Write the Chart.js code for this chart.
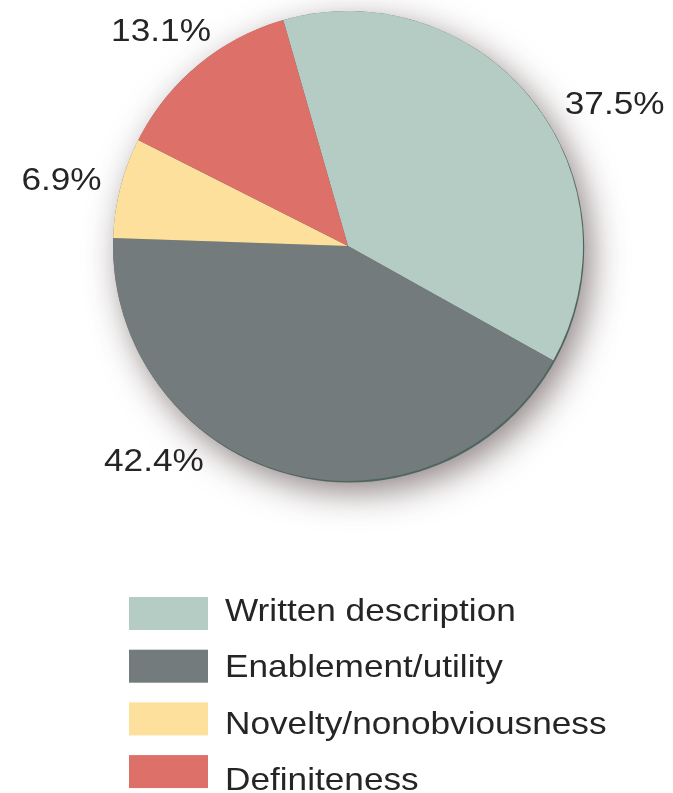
<!DOCTYPE html>
<html>
<head>
<meta charset="utf-8">
<script src="https://cdn.jsdelivr.net/npm/chart.js@4/dist/chart.umd.min.js"></script>
<style>
    html, body { margin: 0; padding: 0; background: #fff; overflow: hidden; }
    #wrap { width: 673px; height: 793px; position: relative; }
</style>
</head>
<body>
<div id="wrap"><canvas id="pieChart"></canvas></div>
<script>
// Категории и доли (в процентах)
const categories = ['Written description', 'Enablement/utility', 'Novelty/nonobviousness', 'Definiteness'];
const shares = [37.5, 42.4, 6.9, 13.1];
// Цвета секторов
const sliceColors = ['#b5ccc4', '#737b7c', '#fde09c', '#dd7169'];

const textFont = '32px "Liberation Sans", Arial, sans-serif';
const textColor = '#252525';
// Шрифт в оригинале немного шире обычного Arial
const textStretch = 1.1;

// Пишет текст, растянутый по горизонтали
function drawWideText(ctx, text, x, y, align) {
    ctx.save();
    ctx.translate(x, y);
    ctx.scale(textStretch, 1);
    ctx.textAlign = align;
    ctx.fillText(text, 0, 0);
    ctx.restore();
}

// Тень и тёмная кромка под кругом
const pieShadow = {
    id: 'pieShadow',
    beforeDatasetsDraw(chart) {
        const arc = chart.getDatasetMeta(0).data[0];
        if (!arc) return;
        const {x, y, outerRadius} = arc.getProps(['x', 'y', 'outerRadius'], true);
        const ctx = chart.ctx;
        ctx.save();
        ctx.shadowColor = 'rgba(75, 55, 55, 0.62)';
        ctx.shadowBlur = 34;
        ctx.shadowOffsetX = 8;
        ctx.shadowOffsetY = 11;
        ctx.beginPath();
        ctx.arc(x, y, outerRadius, 0, Math.PI * 2);
        ctx.fillStyle = '#6f7a78';
        ctx.fill();
        ctx.restore();

        ctx.save();
        ctx.beginPath();
        ctx.arc(x + 1.2, y + 1.5, outerRadius, 0, Math.PI * 2);
        ctx.fillStyle = '#4f6660';
        ctx.fill();
        ctx.restore();
    }
};

// Подписи процентов снаружи круга
const outsideLabels = {
    id: 'outsideLabels',
    afterDatasetsDraw(chart, args, opts) {
        const meta = chart.getDatasetMeta(0);
        const ctx = chart.ctx;
        ctx.save();
        ctx.font = textFont;
        ctx.fillStyle = textColor;
        ctx.textBaseline = 'middle';
        meta.data.forEach((arc, i) => {
            const {x, y} = arc.getProps(['x', 'y'], true);
            const a = opts.angles[i] * Math.PI / 180;
            const d = opts.distances[i];
            const value = chart.data.datasets[0].data[i];
            drawWideText(ctx, value.toFixed(1) + '%', x + d * Math.sin(a), y - d * Math.cos(a) + 1, 'center');
        });
        ctx.restore();
    }
};

// Легенда столбиком под кругом
const boxLegend = {
    id: 'boxLegend',
    afterDraw(chart, args, opts) {
        const ctx = chart.ctx;
        const colors = chart.data.datasets[0].backgroundColor;
        ctx.save();
        ctx.font = textFont;
        ctx.textBaseline = 'alphabetic';
        chart.data.labels.forEach((label, i) => {
            ctx.fillStyle = colors[i];
            ctx.fillRect(opts.boxX, opts.boxTop + i * opts.boxStep, opts.boxW, opts.boxH);
            ctx.fillStyle = textColor;
            drawWideText(ctx, label, opts.textX, opts.textBase + i * opts.textStep, 'left');
        });
        ctx.restore();
    }
};

const config = {
    type: 'pie',
    data: {
        labels: categories,
        datasets: [{
            data: shares,
            backgroundColor: sliceColors,
            borderWidth: 0,
            radius: 235
        }]
    },
    options: {
        responsive: true,
        maintainAspectRatio: false,
        animation: false,
        rotation: -16,
        layout: {
            padding: {left: 23, right: 0, top: 0, bottom: 301}
        },
        plugins: {
            legend: {display: false},
            tooltip: {enabled: false},
            outsideLabels: {
                angles: [62, 222, 283, 319],
                distances: [302, 290, 294, 285]
            },
            boxLegend: {
                boxX: 129, boxTop: 597, boxStep: 52.7, boxW: 79, boxH: 33,
                textX: 225, textBase: 621, textStep: 56.4
            }
        }
    },
    plugins: [pieShadow, outsideLabels, boxLegend]
};

const pieChart = new Chart(document.getElementById('pieChart'), config);
</script>
</body>
</html>
